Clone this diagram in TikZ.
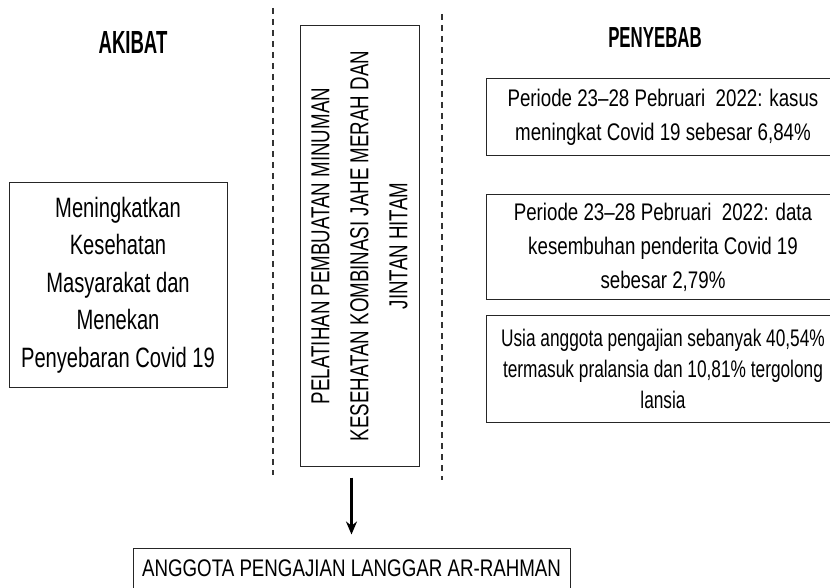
\documentclass[tikz,border=0pt]{standalone}
\usepackage{fontspec}
\setmainfont{Liberation Sans}[FakeStretch=0.78]
\newfontfamily\narrowfont{Liberation Sans}[FakeStretch=0.72]
\newfontfamily\headfont{Liberation Sans}[FakeStretch=0.58]
\usetikzlibrary{arrows.meta}

\begin{document}
\begin{tikzpicture}[x=1pt,y=-1pt,
	box/.style={draw=black!85,line width=1pt,align=center,inner sep=0pt},
	heading/.style={font=\headfont\bfseries\fontsize{#1}{#1}\selectfont},
	divider/.style={draw=black!80,line width=1.2pt,dash pattern=on 6pt off 5pt}]
	\useasboundingbox (0,0) rectangle (830,588);
	\clip (0,0) rectangle (830,588);

	\node[heading=32](akibat) at (133,42){AKIBAT};
	\node[heading=29](penyebab) at (655,38){PENYEBAB};

	\foreach \xd/\ya/\yb in {273/8/475,442/14/480}
		\draw[divider] (\xd,\ya) -- (\xd,\yb);

	\node[box,minimum width=218pt,minimum height=204pt,font=\narrowfont\fontsize{28}{37.5}\selectfont](effect) at (118,285)
		{Meningkatkan\\Kesehatan\\Masyarakat dan\\Menekan\\Penyebaran Covid 19};

	\node[box,rotate=90,minimum width=440pt,minimum height=119pt,font=\narrowfont\fontsize{26}{39}\selectfont](program) at (359.5,246)
		{PELATIHAN PEMBUATAN MINUMAN\\KESEHATAN KOMBINASI JAHE MERAH DAN\\JINTAN HITAM};

	\node[box,minimum width=354pt,minimum height=77pt,font=\fontsize{24}{34}\selectfont](cause1) at (663,117.5)
		{Periode 23--28 Pebruari~ 2022: kasus\\meningkat Covid 19 sebesar 6,84\%};
	\node[box,minimum width=354pt,minimum height=104pt,font=\fontsize{24}{34}\selectfont](cause2) at (663,247)
		{Periode 23--28 Pebruari~ 2022: data\\kesembuhan penderita Covid 19\\sebesar 2,79\%};
	\node[box,minimum width=354pt,minimum height=107pt,font=\narrowfont\fontsize{24}{31}\selectfont](cause3) at (663,368.5)
		{Usia anggota pengajian sebanyak 40,54\%\\termasuk pralansia dan 10,81\% tergolong\\lansia};

	\node[box,minimum width=437pt,minimum height=48pt,text height=17pt,text depth=8pt,font=\fontsize{24}{24}\selectfont](members) at (351.5,572)
		{ANGGOTA PENGAJIAN LANGGAR AR-RAHMAN};

	\draw[-{Stealth[length=13pt,width=11pt]},line width=2.2pt,shorten <=11pt,shorten >=13pt]
		(program.west -| members.north) -- (members.north);
\end{tikzpicture}
\end{document}
